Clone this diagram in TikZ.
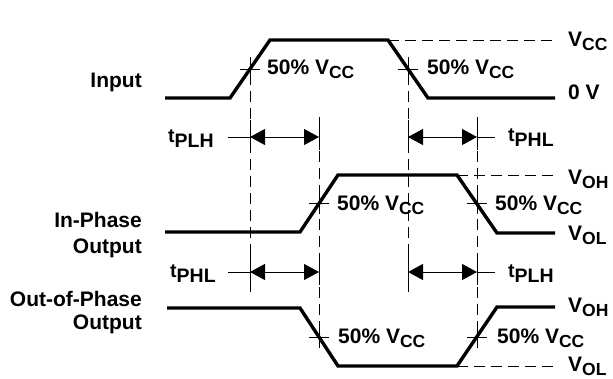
\documentclass[tikz,border=0pt]{standalone}
\usepackage{fontspec}
\setmainfont{Liberation Sans}
\usetikzlibrary{arrows.meta,calc}
\newcommand\sbs[1]{\raisebox{-4.5pt}{\fontsize{17.5}{18}\selectfont #1}}
\newcommand\tsb[1]{\raisebox{-5pt}{\fontsize{19.5}{20}\selectfont #1}}
\begin{document}
\begin{tikzpicture}[x=1pt,y=-1pt,
  wave/.style={line width=3.4pt,line join=miter,line cap=butt},
  thinline/.style={line width=1pt},
  dsh/.style={line width=1pt,dash pattern=on 11pt off 6pt},
  lbl/.style={font=\fontsize{21}{23}\selectfont\bfseries,inner sep=0pt},
  tlbl/.style={font=\fontsize{19.5}{21}\selectfont\bfseries,inner sep=0pt},
  dim/.style={line width=1pt,{Triangle[length=15pt,width=16pt]}-{Triangle[length=15pt,width=16pt]}}]
\useasboundingbox (0,0) rectangle (613,378);
% waveforms
\coordinate (i0) at (165,98); \coordinate (i1) at (230,98); \coordinate (i2) at (270,40);
\coordinate (i3) at (388,40); \coordinate (i4) at (428,98); \coordinate (i5) at (555,98);
\draw[wave] (i0) -- (i1) -- (i2) -- (i3) -- (i4) -- (i5);
\coordinate (p0) at (165,232); \coordinate (p1) at (300,232); \coordinate (p2) at (338,175);
\coordinate (p3) at (457,175); \coordinate (p4) at (497,233); \coordinate (p5) at (555,233);
\draw[wave] (p0) -- (p1) -- (p2) -- (p3) -- (p4) -- (p5);
\coordinate (o0) at (167,308); \coordinate (o1) at (300,308); \coordinate (o2) at (338,366);
\coordinate (o3) at (457,366); \coordinate (o4) at (497,307); \coordinate (o5) at (555,307);
\draw[wave] (o0) -- (o1) -- (o2) -- (o3) -- (o4) -- (o5);
% reference dashed levels
\coordinate (vccend) at (555,40); \coordinate (vohend) at (555,175); \coordinate (volend) at (555,366);
\draw[dsh] (i3) -- (vccend);
\draw[dsh] (p3) -- (vohend);
\draw[dsh] (o3) -- (volend);
% vertical reference lines
\coordinate (a0) at (250,57); \coordinate (a1) at (250,292);
\coordinate (b0) at (408,57); \coordinate (b1) at (408,292);
\coordinate (c0) at (319,117); \coordinate (c1) at (319,348);
\coordinate (d0) at (477,117); \coordinate (d1) at (477,348);
\draw[dsh] (a0) -- (a1);
\draw[dsh] (b0) -- (b1);
\draw[dsh] (c0) -- (c1);
\draw[dsh] (d0) -- (d1);
% solid parts near arrows and ticks
\foreach \x in {250,408}{
  \draw[thinline] (\x,120) -- (\x,150);
  \draw[thinline] (\x,252) -- (\x,292);
  \draw[thinline] (\x,58) -- (\x,80);
  \draw[thinline] (\x-10,69) -- (\x+10,69);
}
\foreach \x in {319,477}{
  \draw[thinline] (\x,117) -- (\x,150);
  \draw[thinline] (\x,255) -- (\x,285);
  \draw[thinline] (\x,193) -- (\x,214);
  \draw[thinline] (\x-10,203) -- (\x+10,203);
  \draw[thinline] (\x,326) -- (\x,348);
  \draw[thinline] (\x-10,337) -- (\x+10,337);
}
% dimension arrows
\coordinate (r1a) at (250,137); \coordinate (r1b) at (319,137);
\coordinate (r1c) at (408,137); \coordinate (r1d) at (477,137);
\coordinate (r2a) at (250,272); \coordinate (r2b) at (319,272);
\coordinate (r2c) at (408,272); \coordinate (r2d) at (477,272);
\coordinate (e1) at (228,137); \coordinate (e2) at (495,137);
\coordinate (e3) at (228,272); \coordinate (e4) at (495,272);
\draw[dim] (r1a) -- (r1b);
\draw[dim] (r1c) -- (r1d);
\draw[dim] (r2a) -- (r2b);
\draw[dim] (r2c) -- (r2d);
\draw[thinline] (e1) -- (r1a);
\draw[thinline] (r1d) -- (e2);
\draw[thinline] (e3) -- (r2a);
\draw[thinline] (r2d) -- (e4);
% labels
\node[lbl,anchor=base east] (lin) at (142,87) {Input};
\node[lbl,anchor=base east] (lip1) at (142,227) {In-Phase};
\node[lbl,anchor=base east] (lip2) at (142,253) {Output};
\node[lbl,anchor=base east] (lop1) at (142,306) {Out-of-Phase};
\node[lbl,anchor=base east] (lop2) at (142,329) {Output};
\node[lbl,anchor=base west] (m1) at (267,74) {50\% V\sbs{CC}};
\node[lbl,anchor=base west] (m2) at (427,74) {50\% V\sbs{CC}};
\node[lbl,anchor=base west] (m3) at (337,210) {50\% V\sbs{CC}};
\node[lbl,anchor=base west] (m4) at (495,210) {50\% V\sbs{CC}};
\node[lbl,anchor=base west] (m5) at (338,343) {50\% V\sbs{CC}};
\node[lbl,anchor=base west] (m6) at (497,343) {50\% V\sbs{CC}};
\node[lbl,anchor=base west] (rv1) at (568,46) {V\sbs{CC}};
\node[lbl,anchor=base west] (rv2) at (568,99) {0 V};
\node[lbl,anchor=base west] (rv3) at (568,184) {V\sbs{OH}};
\node[lbl,anchor=base west] (rv4) at (568,240) {V\sbs{OL}};
\node[lbl,anchor=base west] (rv5) at (568,312) {V\sbs{OH}};
\node[lbl,anchor=base west] (rv6) at (568,371) {V\sbs{OL}};
\node[tlbl,anchor=base west] (t1) at (168,142) {t\tsb{PLH}};
\node[tlbl,anchor=base west] (t2) at (508,141) {t\tsb{PHL}};
\node[tlbl,anchor=base west] (t3) at (170,277) {t\tsb{PHL}};
\node[tlbl,anchor=base west] (t4) at (508,277) {t\tsb{PLH}};
\end{tikzpicture}
\end{document}
